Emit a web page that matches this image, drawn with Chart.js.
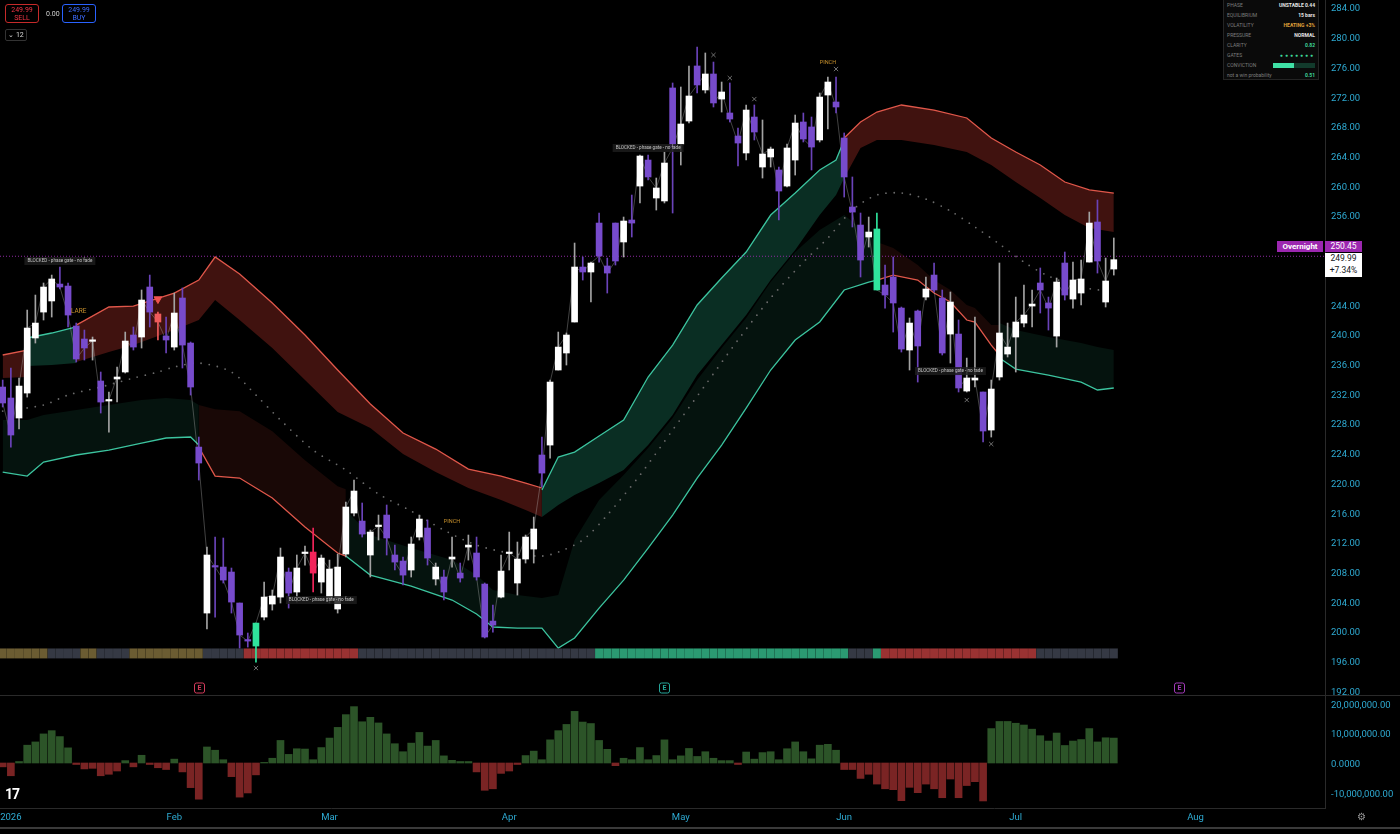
<!DOCTYPE html>
<html>
<head>
<meta charset="utf-8">
<script src="https://cdn.jsdelivr.net/npm/chart.js@4.4.1/dist/chart.umd.min.js"></script>
<style>
  body { margin:0; background:#000; width:1400px; height:834px; overflow:hidden; position:relative; font-family:Roboto,"Liberation Sans",sans-serif; }
  canvas { position:absolute; left:0; }
  #main { top:0; }
  #osc { top:695px; }
  .abs { position:absolute; }
  .btn { position:absolute; top:4px; width:34px; height:19px; border-radius:3px; box-sizing:border-box; text-align:center; font-size:7px; line-height:8px; padding-top:1px; }
  #info { position:absolute; left:1223px; top:-1px; width:96px; height:81px; background:#0a0a0a; border:1px solid #242424; box-sizing:border-box; }
  #info .row { display:flex; justify-content:space-between; align-items:center; height:10px; padding:0 3px 0 3px; font-size:5px; }
  #info .k { color:#7d7d7d; }
  #info .v { color:#e6e6e6; font-weight:bold; }
</style>
</head>
<body>
<canvas id="main" width="1400" height="695"></canvas>
<canvas id="osc" width="1400" height="139"></canvas>

<!-- petits widgets en haut a gauche -->
<div class="btn" style="left:5px;border:1px solid #c62a2a;color:#f23645">249.99<br>SELL</div>
<div class="abs" style="left:46px;top:10px;font-size:7px;color:#d0d0d0">0.00</div>
<div class="btn" style="left:62px;border:1px solid #2962ff;color:#3d6cff">249.99<br>BUY</div>
<div class="abs" style="left:5px;top:29px;width:22px;height:12px;border:1px solid #333;border-radius:2px;box-sizing:border-box;font-size:7px;color:#ddd;line-height:10px;text-align:center">&#8964; 12</div>

<!-- panneau d'etat -->
<div id="info">
  <div class="row"><span class="k">PHASE</span><span class="v">UNSTABLE&nbsp;0.44</span></div>
  <div class="row"><span class="k">EQUILIBRIUM</span><span class="v">15 bars</span></div>
  <div class="row"><span class="k">VOLATILITY</span><span class="v" style="color:#e0a13a">HEATING&nbsp;+3%</span></div>
  <div class="row"><span class="k">PRESSURE</span><span class="v">NORMAL</span></div>
  <div class="row"><span class="k">CLARITY</span><span class="v" style="color:#3ed69a">0.82</span></div>
  <div class="row"><span class="k">GATES</span><span class="v" style="color:#3ed69a;letter-spacing:2px;font-size:5px">&#9679;&#9679;&#9679;&#9679;&#9679;&#9679;&#9679;</span></div>
  <div class="row"><span class="k">CONVICTION</span><span style="display:flex;width:42px;height:5px"><span style="width:21px;background:#3fe0a5"></span><span style="flex:1;background:#123b2c"></span></span></div>
  <div class="row"><span class="k" style="text-transform:none">not a win probability</span><span class="v" style="color:#3ed69a">0.51</span></div>
</div>

<!-- etiquettes de prix sur l'axe -->
<div class="abs" style="left:1277px;top:241px;width:46px;height:11px;background:#9c27b0;color:#fff;font-size:8px;font-weight:bold;line-height:11px;text-align:center">Overnight</div>
<div class="abs" style="left:1325px;top:241px;width:37px;height:11px;background:#9c27b0;color:#fff;font-size:8.5px;line-height:11px;text-align:center">250.45</div>
<div class="abs" style="left:1325px;top:253px;width:37px;height:24px;background:#fff;color:#131722;font-size:8.5px;line-height:11.5px;text-align:center">249.99<br>+7.34%</div>

<!-- separateurs, logo, reglages -->
<div class="abs" style="left:0;top:695px;width:1400px;height:1px;background:#2a2a2a"></div>
<div class="abs" style="left:0;top:827px;width:1400px;height:2px;background:#3a3a3a"></div>
<div class="abs" style="left:5px;top:786px;font-size:14px;font-weight:bold;color:#fff;letter-spacing:-1px">17</div>
<div class="abs" style="left:1357px;top:811px;font-size:10px;color:#9a9a9a">&#9881;</div>

<script>
// Bougies journalieres (index 0 = 31 dec 2025)
const opens = [232.85,231.37,228.68,232.04,239.45,242.94,244.43,246.71,246.44,241.06,
  239.31,239.00,233.66,230.97,233.93,234.87,239.85,239.58,246.31,242.68,
  239.71,238.23,244.83,238.77,224.77,202.43,208.80,208.62,207.95,203.78,
  198.80,197.99,201.89,203.64,204.58,207.95,205.26,210.44,210.64,206.60,
  204.45,202.97,210.37,215.89,214.81,210.24,214.07,215.62,210.24,209.43,
  208.22,212.66,213.87,207.01,207.28,209.70,207.81,211.31,210.51,206.33,
  201.35,204.58,210.44,206.47,209.70,211.04,223.70,225.04,235.14,237.43,
  241.60,249.00,248.33,254.92,249.14,254.92,252.37,255.33,259.90,263.40,
  258.29,257.89,273.10,265.56,268.65,276.06,272.83,274.98,271.61,269.73,
  266.63,264.35,269.19,262.46,263.81,262.06,259.90,263.40,268.52,267.85,
  266.10,272.15,271.21,266.37,257.08,254.65,253.04,254.12,246.58,247.66,
  243.48,237.83,243.08,244.96,247.92,244.83,239.98,239.98,232.31,233.79,
  232.18,227.06,234.20,237.29,239.58,241.46,243.75,246.85,244.16,239.71,
  249.54,244.69,245.50,249.67,255.06,244.29,248.73];
const highs = [233.79,235.41,234.06,243.21,245.23,246.85,247.92,249.00,246.85,241.46,
  240.52,239.58,234.87,232.18,235.54,240.25,240.93,245.91,247.92,242.94,
  242.27,245.50,246.18,238.91,226.12,211.31,212.66,212.53,208.49,203.78,
  199.74,201.08,206.60,205.53,211.18,208.49,210.24,211.45,213.87,210.24,
  209.56,210.37,217.37,220.33,217.24,213.60,215.62,216.97,211.58,209.97,
  212.66,215.62,214.95,209.16,208.22,212.66,209.16,212.93,212.66,206.47,
  203.51,210.24,213.33,211.99,212.93,215.35,226.12,233.79,240.25,240.12,
  252.23,250.35,249.67,256.27,250.21,254.92,255.73,258.69,264.08,264.08,
  260.98,264.48,273.77,273.23,276.06,278.61,277.81,276.59,273.90,273.77,
  267.71,270.81,270.81,268.79,265.15,262.46,265.56,269.46,269.73,269.19,
  272.42,274.58,274.58,267.04,261.12,256.27,255.73,256.27,249.27,250.35,
  243.62,242.14,243.21,247.66,249.54,245.91,245.64,241.87,236.75,242.27,
  232.18,233.79,249.54,241.46,244.96,246.58,245.91,248.87,244.96,247.52,
  251.02,249.67,249.94,256.40,258.02,250.21,252.91];
const lows = [230.16,224.77,227.20,231.50,238.77,241.87,242.27,246.04,240.93,236.21,
  236.48,236.48,229.35,226.79,230.83,234.73,237.83,238.10,240.93,239.18,
  237.43,237.83,235.41,231.77,220.33,200.28,201.89,206.47,202.43,197.72,
  197.85,195.83,201.49,202.83,203.78,203.10,203.91,208.89,205.26,205.12,
  203.78,202.43,209.97,215.49,212.66,207.28,212.26,210.24,208.22,206.20,
  207.28,212.26,208.89,206.20,204.19,208.62,206.60,209.56,206.87,199.07,
  199.87,204.45,208.22,204.85,209.16,209.16,219.39,223.29,235.14,235.81,
  241.60,247.25,244.29,249.67,245.50,249.27,250.35,253.04,257.62,260.71,
  256.67,257.62,256.27,262.73,268.38,272.42,272.42,270.54,269.86,268.52,
  262.60,263.40,266.10,260.98,262.46,255.33,259.77,261.38,265.83,262.06,
  265.83,267.58,269.73,258.42,254.39,247.66,251.69,245.91,243.48,240.25,
  237.56,235.14,233.52,244.56,245.64,237.16,236.08,232.18,232.18,232.85,
  225.45,226.12,233.79,236.89,234.87,240.93,240.93,242.81,240.52,238.23,
  244.56,243.48,243.89,249.67,248.19,243.62,247.92];
const closes = [230.70,226.39,232.98,240.79,241.46,246.31,247.39,246.31,242.54,236.62,
  238.10,239.08,230.83,231.10,234.20,239.04,238.23,244.56,242.94,241.60,
  239.18,242.81,238.50,232.85,222.62,210.24,208.62,206.87,203.91,199.47,
  198.66,201.08,204.58,204.72,209.97,205.12,208.49,210.51,207.81,209.83,
  208.35,208.62,216.70,218.85,213.06,213.33,214.14,212.53,209.29,207.54,
  211.72,215.08,209.83,208.62,205.26,209.97,207.14,211.58,207.28,199.20,
  200.81,208.08,210.51,209.70,212.66,213.74,221.27,233.52,238.23,239.85,
  249.00,248.33,249.54,250.48,248.19,249.81,255.19,254.92,263.94,261.12,
  259.64,263.00,265.02,268.25,272.02,273.50,274.98,271.08,272.56,268.92,
  265.69,270.13,267.17,264.21,264.88,259.23,265.02,268.38,266.23,265.15,
  271.88,273.90,270.54,261.12,256.40,249.94,253.71,245.91,245.23,244.16,
  237.96,241.46,238.37,246.04,245.91,237.43,244.29,232.72,234.06,234.06,
  226.93,232.58,240.12,238.23,241.60,242.54,244.02,245.91,243.48,246.98,
  245.23,247.25,247.39,254.92,249.81,247.12,249.99];

// Oscillateur du bas (en millions)
const flowM = [-1.3,-4.3,0.5,6.0,7.1,9.8,10.9,8.9,5.1,-0.5,
  -2.0,-1.8,-4.3,-3.8,-2.7,0.8,-1.3,2.6,-0.5,-1.6,
  -2.2,1.3,-3.0,-8.3,-12.2,5.4,4.3,1.1,-4.6,-11.5,
  -10.1,-4.0,0.2,1.6,7.6,2.9,4.8,4.7,1.1,5.2,
  8.4,12.0,16.3,19.0,13.9,15.4,13.5,9.8,6.5,3.8,
  6.7,10.3,5.7,7.6,2.4,0.9,0.5,0.5,-3.0,-9.2,
  -8.7,-3.5,-2.7,-0.5,2.5,4.0,1.1,7.8,10.9,13.0,
  17.4,13.8,13.3,7.6,4.6,-0.9,1.6,1.1,5.2,1.1,
  2.5,7.8,1.1,2.4,4.9,2.2,3.8,1.6,0.8,0.8,
  -0.5,3.7,1.3,3.5,3.8,1.1,4.8,7.1,3.8,1.4,
  6.0,6.3,4.3,-2.2,-2.2,-5.2,-3.8,-7.1,-8.7,-9.0,
  -12.7,-8.2,-10.0,-7.1,-8.7,-11.7,-5.4,-11.7,-7.6,-6.3,
  -12.8,11.6,14.0,14.0,13.4,12.8,11.4,9.2,7.4,10.1,
  5.9,7.4,7.9,11.6,7.1,8.5,8.4];

// Bande haute (ligne + bord interieur), par segment de couleur
const upA_x = [0, 3];
const upA_top = [237.16, 237.83];
const upA_bot = [234.06, 234.20];
const upB_x = [3, 6, 9];
const upB_top = [239.45, 240.12, 240.93];
const upB_bot = [235.68, 235.81, 236.08];
const upC_x = [9,13,16,21,24,26,29,33,37,41,45,49,53,57,61,64,66];
const upC_top = [241.19,243.62,243.75,245.50,247.25,250.35,248.06,244.16,239.85,235.14,230.56,226.66,224.50,221.81,220.87,219.93,219.26];
const upC_bot = [236.21,237.56,238.50,240.52,241.87,244.56,241.87,238.10,233.79,229.48,227.33,223.83,221.41,219.26,217.64,216.29,215.35];
const upD_x = [66,68,70,73,76,79,82,85,88,91,94,97,100,102,103];
const upD_top = [218.99,223.43,224.10,226.25,228.41,234.20,238.50,243.89,247.52,251.02,256.00,258.96,262.06,263.40,266.10];
const upD_bot = [215.35,216.97,218.31,219.93,221.68,225.04,229.08,234.46,238.50,242.54,247.25,251.29,256.00,258.69,260.98];
const upE_x = [103,105,107,110,114,118,121,124,127,130,133,136];
const upE_top = [266.37,268.52,269.86,270.81,270.13,269.06,266.37,264.48,262.73,260.44,259.37,258.96];
const upE_bot = [260.98,265.02,266.10,266.10,265.42,264.48,262.73,260.44,258.29,256.00,254.25,253.71];

// Bande basse (ligne + bord interieur)
const loA_x = [0,3,5,9,13,17,20,23,24];
const loA_line = [221.41,220.87,222.75,223.70,224.37,225.31,225.99,226.12,225.04];
const loA_in = [228.41,228.41,229.08,229.75,230.43,231.10,231.37,231.10,230.43];
const loB_x = [24,26,29,33,37,41,42];
const loB_line = [224.77,220.87,220.60,217.91,214.01,210.51,210.10];
const loB_in = [230.43,229.87,229.60,226.91,223.01,219.51,219.10];
const loC_x = [42,45,50,55,58,60,63,66,68,70,73,76,79,82,85,88,91,94,97,100,103,106,107];
const loC_line = [210.10,207.54,206.06,204.18,202.30,200.55,200.41,200.41,197.72,199.07,203.10,206.87,211.18,215.62,220.60,225.04,230.02,235.14,239.18,241.60,245.91,246.98,247.25];
const loC_in = [216.29,212.93,211.18,209.56,207.54,205.53,204.85,204.45,204.85,212.26,217.64,221.00,224.64,228.68,233.79,238.10,242.14,246.98,251.02,253.98,256.00,253.31,252.37];
const loD_x = [107,109,112,114,116,118,119,121,122];
const loD_line = [247.25,247.92,247.25,245.50,244.29,241.87,241.60,238.50,237.16];
const loD_in = [252.37,251.56,249.27,247.25,245.91,243.89,243.48,241.19,241.19];
const loE_x = [122,124,128,132,134,136];
const loE_line = [236.75,235.27,234.46,233.52,232.45,232.72];
const loE_in = [241.46,240.52,239.58,238.77,238.23,237.83];

// Ligne pointillee centrale
const midX = [0,5,8,12,16,19,21,24,28,31,34,38,42,46,50,54,58,62,66,68,71,74,78,82,86,90,94,98,101,104,107,110,113,116,119,122,125,128,132,136];
const midY = [229.62,230.43,231.77,232.85,234.06,234.87,235.54,236.08,234.87,231.77,228.41,224.37,221.68,218.45,216.16,213.60,211.58,210.51,210.10,210.64,212.26,215.62,221.00,227.06,233.12,239.18,244.83,249.67,252.91,256.67,258.69,258.96,258.15,256.54,254.39,252.10,249.67,247.79,246.31,245.64];

// Bandeau de regime : o = neutre chaud, n = gris, r = rouge, g = vert
const regimeRuns = [['o',0,5],['n',6,9],['o',10,11],['n',12,15],['o',16,24],['n',25,29],['r',30,43],
  ['n',44,72],['g',73,103],['n',104,106],['g',107,107],['r',108,126],['n',127,136]];

// Marqueurs et notes
const crossIdx = [31, 87, 89, 92, 102, 118, 121];
const crossPrice = [195.03, 277.54, 274.44, 271.61, 275.65, 231.10, 225.18];
const flareIdx = [19];
const flarePrice = [244.69];
const blockedIdx = [7, 79, 39, 116];
const blockedPrice = [249.81, 265.02, 204.18, 235.00];
const pinchIdx = [55, 101];
const pinchPrice = [214.68, 276.46];
const earningsIdx = [24, 81, 144];
const overnightPrice = 250.45;

// Axe du temps
const monthTicks = [1, 21, 40, 62, 83, 103, 124, 146];
const monthLabels = ['2026', 'Feb', 'Mar', 'Apr', 'May', 'Jun', 'Jul', 'Aug'];

const xMin = -0.33, xMax = 161.85;
const AXIS_BLUE = '#2eaad2';
const UP = '#ffffff', DOWN = '#774bcc';
const specialBody = {19: '#ef5b5b', 31: '#2fe39c', 38: '#f2245b', 107: '#2fe39c'};
const regimeColor = {o: '#6b5c32', n: '#353944', r: '#9a3232', g: '#2b9a72'};
const RED_LINE = '#e0574a', GREEN_LINE = '#3cc49f';

Chart.defaults.font.family = 'Roboto, "Liberation Sans", sans-serif';

// construction des datasets
const datasets = [];
function addBand(xs, edge, inner, lineColor, fillColor, order) {
  datasets.push({type: 'line', data: xs.map((v, k) => ({x: v, y: edge[k]})), borderColor: lineColor,
    borderWidth: 1.3, backgroundColor: fillColor, fill: '+1', pointRadius: 0, tension: 0, order: order});
  datasets.push({type: 'line', data: xs.map((v, k) => ({x: v, y: inner[k]})), borderColor: 'rgba(0,0,0,0)',
    borderWidth: 0, pointRadius: 0, fill: false, tension: 0, order: order});
}
const dimRed = 'rgba(150,45,35,0.17)', dimGreen = 'rgba(40,150,110,0.13)';
const redBand = 'rgba(160,45,38,0.40)', greenBand = 'rgba(30,140,105,0.33)';

addBand(loA_x, loA_line, loA_in, GREEN_LINE, dimGreen, 60);
addBand(loB_x, loB_line, loB_in, RED_LINE, dimRed, 60);
addBand(loC_x, loC_line, loC_in, GREEN_LINE, dimGreen, 60);
addBand(loD_x, loD_line, loD_in, RED_LINE, dimRed, 60);
addBand(loE_x, loE_line, loE_in, GREEN_LINE, dimGreen, 60);
addBand(upA_x, upA_top, upA_bot, RED_LINE, redBand, 50);
addBand(upB_x, upB_top, upB_bot, GREEN_LINE, greenBand, 50);
addBand(upC_x, upC_top, upC_bot, RED_LINE, redBand, 50);
addBand(upD_x, upD_top, upD_bot, GREEN_LINE, greenBand, 50);
addBand(upE_x, upE_top, upE_bot, RED_LINE, redBand, 50);

// pointilles du milieu
datasets.push({type: 'line', data: midX.map((v, k) => ({x: v, y: midY[k]})), borderColor: '#6a6a6a',
  borderWidth: 1.8, borderDash: [0, 8.2], borderCapStyle: 'round', pointRadius: 0, fill: false, tension: 0.3, order: 40});
// ligne overnight
datasets.push({type: 'line', data: [{x: xMin, y: overnightPrice}, {x: xMax, y: overnightPrice}], borderColor: '#8e2aa3',
  borderWidth: 1, borderDash: [1, 2], pointRadius: 0, fill: false, order: 35});

// bandeau regime
const regime = [];
regimeRuns.forEach(r => { for (let i = r[1]; i <= r[2]; i++) regime[i] = r[0]; });
datasets.push({type: 'bar', data: regime.map((r, i) => ({x: i, y: [196.37, 197.62]})),
  backgroundColor: regime.map(r => regimeColor[r]), barThickness: 7.4, grouped: false, order: 30});

// ligne des clotures
datasets.push({type: 'line', data: closes.map((c, i) => ({x: i, y: c})), borderColor: 'rgba(190,190,190,0.35)',
  borderWidth: 1, pointRadius: 0, fill: false, tension: 0, order: 20});

// meches et corps
const isUp = closes.map((c, i) => c >= opens[i]);
datasets.push({type: 'bar', data: highs.map((h, i) => ({x: i, y: [lows[i], h]})),
  backgroundColor: isUp.map((u, i) => specialBody[i] ? specialBody[i] : (u ? '#a3a3a3' : '#6a43b9')),
  barThickness: 1, grouped: false, order: 11});
datasets.push({type: 'bar', data: opens.map((o, i) => ({x: i, y: [o, closes[i]]})),
  backgroundColor: isUp.map((u, i) => specialBody[i] || (u ? UP : DOWN)),
  barThickness: 6, minBarLength: 1.5, grouped: false, order: 10});

// croix et triangle
datasets.push({type: 'line', data: crossIdx.map((v, k) => ({x: v, y: crossPrice[k]})), showLine: false,
  pointStyle: 'crossRot', pointRadius: 3, borderColor: '#6f6f6f', borderWidth: 1, order: 5});
datasets.push({type: 'line', data: flareIdx.map((v, k) => ({x: v, y: flarePrice[k]})), showLine: false,
  pointStyle: 'triangle', rotation: 180, pointRadius: 4.5, backgroundColor: '#ef5350', borderColor: '#ef5350', order: 4});

// textes sur le graphique
const notesPlugin = {
  id: 'notes',
  afterDatasetsDraw(chart) {
    const ctx = chart.ctx, x = chart.scales.x, y = chart.scales.y;
    ctx.save();
    ctx.textAlign = 'center';
    ctx.textBaseline = 'middle';
    const txt = 'BLOCKED - phase gate - no fade';
    ctx.font = '4.6px Roboto';
    blockedIdx.forEach((v, k) => {
      const px = x.getPixelForValue(v), py = y.getPixelForValue(blockedPrice[k]);
      const w = ctx.measureText(txt).width + 6;
      ctx.fillStyle = 'rgba(28,28,28,0.85)';
      ctx.fillRect(px - w / 2, py - 4, w, 8);
      ctx.fillStyle = '#c4c4c4';
      ctx.fillText(txt, px, py);
    });
    ctx.font = '5.5px Roboto';
    ctx.fillStyle = '#c8912c';
    pinchIdx.forEach((v, k) => ctx.fillText('PINCH', x.getPixelForValue(v), y.getPixelForValue(pinchPrice[k])));
    ctx.font = '6.5px Roboto';
    ctx.fillText('LARE', x.getPixelForValue(9.3), y.getPixelForValue(243.08));
    // marqueurs E (resultats)
    const eCol = ['#d23a5a', '#26a69a', '#a23ab8'];
    ctx.font = 'bold 7px Roboto';
    ctx.lineWidth = 1;
    earningsIdx.forEach((v, k) => {
      const px = Math.round(x.getPixelForValue(v)) + 0.5, py = chart.chartArea.bottom - 7;
      ctx.strokeStyle = eCol[k];
      ctx.beginPath();
      ctx.roundRect(px - 5, py - 5, 10, 10, 2);
      ctx.stroke();
      ctx.fillStyle = eCol[k];
      ctx.fillText('E', px, py + 0.5);
    });
    ctx.restore();
  }
};

new Chart(document.getElementById('main'), {
  type: 'bar',
  data: {datasets: datasets},
  options: {
    responsive: false,
    animation: false,
    layout: {padding: 0, autoPadding: false},
    plugins: {legend: {display: false}, tooltip: {enabled: false}},
    scales: {
      x: {type: 'linear', min: xMin, max: xMax, offset: false, display: false},
      y: {
        position: 'right', min: 191.40, max: 284.94,
        grid: {display: false, drawTicks: false},
        border: {display: true, color: '#2a2a2a'},
        ticks: {
          color: AXIS_BLUE, font: {size: 9.5}, padding: 6, stepSize: 4, includeBounds: false, labelOffset: 2,
          callback: v => Math.abs(v - overnightPrice) < 3 ? '' : v.toFixed(2)
        },
        afterFit: s => { s.width = 75; s.paddingTop = 0; s.paddingBottom = 0; }
      }
    }
  },
  plugins: [notesPlugin]
});

// panneau du bas
new Chart(document.getElementById('osc'), {
  type: 'bar',
  data: {
    datasets: [{
      data: flowM.map((v, i) => ({x: i, y: v})),
      backgroundColor: flowM.map(v => v >= 0 ? '#2c5428' : '#7a2424'),
      barThickness: 7, grouped: false
    }]
  },
  options: {
    responsive: false,
    animation: false,
    layout: {padding: 0, autoPadding: false},
    plugins: {legend: {display: false}, tooltip: {enabled: false}},
    scales: {
      x: {
        type: 'linear', min: xMin, max: xMax, offset: false, position: 'bottom',
        grid: {display: false, drawTicks: false},
        border: {display: true, color: '#2a2a2a'},
        ticks: {color: AXIS_BLUE, font: {size: 9.5}, padding: 4, maxRotation: 0, autoSkip: false,
          callback: v => monthLabels[monthTicks.indexOf(v)] || ''},
        afterBuildTicks: s => { s.ticks = monthTicks.map(v => ({value: v})); },
        afterFit: s => { s.height = 26; s.paddingLeft = 0; s.paddingRight = 0; }
      },
      y: {
        position: 'right', min: -15.17, max: 22.92,
        grid: {display: false, drawTicks: false},
        border: {display: true, color: '#2a2a2a'},
        ticks: {
          color: AXIS_BLUE, font: {size: 9.5}, padding: 6, stepSize: 10, includeBounds: false, labelOffset: 1.5,
          callback: v => v === 0 ? '0.0000' : (v * 1e6).toLocaleString('en-US', {minimumFractionDigits: 2, maximumFractionDigits: 2})
        },
        afterFit: s => { s.width = 75; s.paddingTop = 0; s.paddingBottom = 0; }
      }
    }
  }
});
</script>
</body>
</html>
